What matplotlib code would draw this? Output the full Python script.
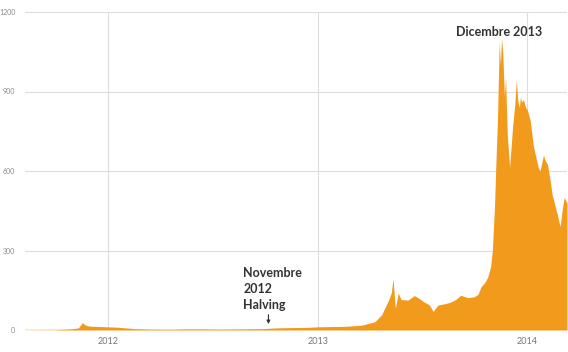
import matplotlib
matplotlib.use("Agg")
import matplotlib.pyplot as plt
import matplotlib.dates as mdates
import pandas as pd

dates = [
    "2011-08-10", "2011-10-02", "2011-10-28", "2011-11-11", "2011-11-18", "2011-11-22",
    "2011-11-29", "2011-12-20", "2012-01-01", "2012-01-15", "2012-02-01", "2012-02-18",
    "2012-03-16", "2012-04-20", "2012-05-17", "2012-06-12", "2012-07-17", "2012-08-21",
    "2012-09-25", "2012-10-21", "2012-11-16", "2012-12-13", "2013-01-01", "2013-01-25",
    "2013-02-20", "2013-03-18", "2013-04-10", "2013-04-22", "2013-05-04", "2013-05-09",
    "2013-05-12", "2013-05-16", "2013-05-21", "2013-05-26", "2013-06-07", "2013-06-18",
    "2013-06-26", "2013-07-05", "2013-07-14", "2013-07-21", "2013-07-29", "2013-08-12",
    "2013-08-21", "2013-08-29", "2013-09-07", "2013-09-19", "2013-09-30", "2013-10-07",
    "2013-10-12", "2013-10-19", "2013-10-24", "2013-10-29", "2013-11-01", "2013-11-05",
    "2013-11-07", "2013-11-10", "2013-11-13", "2013-11-15", "2013-11-17", "2013-11-19",
    "2013-11-22", "2013-11-24", "2013-11-27", "2013-12-01", "2013-12-04", "2013-12-06",
    "2013-12-10", "2013-12-13", "2013-12-15", "2013-12-18", "2013-12-20", "2013-12-22",
    "2013-12-25", "2013-12-29", "2014-01-01", "2014-01-06", "2014-01-11", "2014-01-17",
    "2014-01-20", "2014-01-23", "2014-01-29", "2014-02-01", "2014-02-05", "2014-02-10",
    "2014-02-13", "2014-02-18", "2014-02-22", "2014-02-27", "2014-03-03", "2014-03-06",
    "2014-03-11",
]
prices = [
    0.5, 1, 4, 8, 28, 20,
    15, 13, 12, 11, 8, 5,
    3, 2.5, 4, 4, 3, 4,
    5, 8, 9, 10, 12, 13,
    14, 18, 31, 57, 112, 140,
    194, 81, 140, 115, 113, 130,
    120, 106, 95, 70, 94, 100,
    106, 115, 131, 122, 125, 135,
    162, 180, 200, 240, 300, 480,
    620, 800, 1090, 1000, 1100, 1050,
    880, 950, 737, 615, 700, 760,
    850, 945, 870, 840, 880, 860,
    870, 840, 830, 790, 700, 640,
    612, 600, 660, 640, 625, 560,
    512, 470, 437, 390, 460, 500,
    480,
]
y_ticks = [0, 300, 600, 900, 1200]
x_tick_labels = ["2012", "2013", "2014"]
peak_label = "Dicembre 2013"
halving_label = "Novembre\n2012\nHalving"

plt.rcParams['font.family'] = ['Lato', 'DejaVu Sans']

d = pd.to_datetime(dates)
fig = plt.figure(figsize=(5.68, 3.52), dpi=100)
ax = fig.add_axes([25/568, 22/352, 542/568, 318/352])

ax.fill_between(d, 0, prices, color="#F29A1C", linewidth=0, zorder=2)
ax.set_xlim(pd.Timestamp("2011-08-10"), pd.Timestamp("2014-03-11"))
ax.set_ylim(0, 1200)
ax.set_yticks(y_ticks)
ax.set_yticklabels([str(v) for v in y_ticks])
xt = pd.to_datetime([f"{y}-01-01" for y in x_tick_labels])
ax.set_xticks(xt)
ax.set_xticklabels(x_tick_labels)

ax.grid(True, color="#dddddd", linewidth=0.8, zorder=0)
ax.set_axisbelow(True)
for s in ax.spines.values():
    s.set_visible(False)
ax.axhline(0, color="#999999", linewidth=1.0, zorder=3)
ax.tick_params(axis="y", length=0, labelsize=5, labelcolor="#888888", pad=7)
ax.tick_params(axis="x", length=0, labelsize=6.5, labelcolor="#777777", pad=5)

ax.text(pd.Timestamp("2013-11-13"), 1125, peak_label, fontsize=9, fontweight="bold",
        color="#333333", ha="center", va="center")
ax.text(pd.Timestamp("2012-08-24"), 72, halving_label, fontsize=9, fontweight="bold",
        color="#333333", ha="left", va="bottom", linespacing=1.4)
ax.annotate("", xy=(pd.Timestamp("2012-10-07"), 12), xytext=(pd.Timestamp("2012-10-07"), 68),
            arrowprops=dict(arrowstyle="-|>", color="#333333", lw=0.8, mutation_scale=5))

fig.savefig("out.png", dpi=100)
